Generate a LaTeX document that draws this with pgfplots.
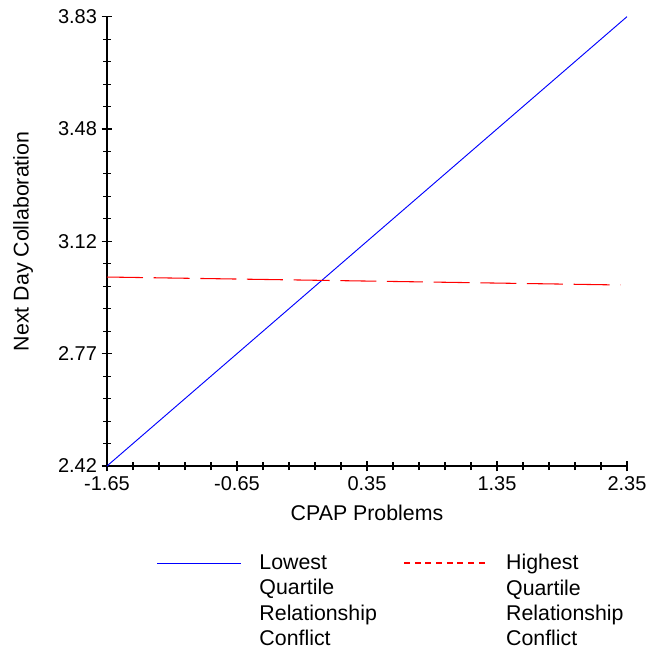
\documentclass[border=0pt]{standalone}
\usepackage{pgfplots}
\pgfplotsset{compat=1.18}
\usepackage{fontspec}
\setmainfont{Liberation Sans}
\pgfplotsset{
  legblue/.style={legend image code/.code={\draw[draw=blue, line width=0.7pt, solid] (0pt,0pt) -- (63pt,0pt); \path[draw=none,fill=none] (76.5pt,0pt) circle (0pt);}},
  legred/.style={legend image code/.code={\draw[color=red, draw=red, line width=1pt, dash pattern=on 4.5pt off 3.5pt] (0pt,0pt) -- (63pt,0pt); \path[draw=none,fill=none] (76.5pt,0pt) circle (0pt);}},
}

\begin{document}
\begin{tikzpicture}
\begin{axis}[
    at={(0,0)}, anchor=south west,
    scale only axis, width=390pt, height=337pt,
    xmin=-1.65, xmax=2.35, ymin=2.42, ymax=3.83,
    axis lines*=left,
    axis line style={line width=0.9pt},
    xtick={-1.65,-0.65,0.35,1.35,2.35},
    xticklabels={-1.65,-0.65,0.35,1.35,2.35},
    ytick={2.42,2.7725,3.125,3.4775,3.83},
    yticklabels={2.42,2.77,3.12,3.48,3.83},
    minor tick num=4,
    tick align=center,
    major tick length=8pt, minor tick length=6pt,
    tick style={black, line width=0.8pt},
    ticklabel style={font=\fontsize{15}{18}\selectfont},
    xlabel={CPAP Problems}, ylabel={Next Day Collaboration},
    label style={font=\fontsize{16}{19}\selectfont},
    xlabel style={at={(axis description cs:0.5,0)}, anchor=north, yshift=-26pt},
    ylabel style={at={(axis description cs:0,0.5)}, anchor=south, yshift=52pt},
    legend columns=2,
    legend style={draw=none, fill=none, at={(axis description cs:0.088,-0.19)}, anchor=north west,
        font=\fontsize{16}{19}\selectfont,
        nodes={text width=108pt, align=left, inner sep=0pt},
        column sep=0pt},
    legend cell align=left,
]
\addplot[blue, line width=0.7pt, forget plot] coordinates {(-1.65,2.42) (2.35,3.83)};
\addplot[red, line width=0.8pt, dash pattern=on 27pt off 8pt, forget plot] coordinates {(-1.65,3.013) (2.30,2.988)};
\addlegendimage{legblue}
\addlegendentry{Lowest\\Quartile\\Relationship\\Conflict}
\addlegendimage{legred}
\addlegendentry{Highest\\Quartile\\Relationship\\Conflict}
\end{axis}
\path[use as bounding box] (-80.25pt,-138pt) rectangle (414.75pt,349.5pt);
\end{tikzpicture}
\end{document}
